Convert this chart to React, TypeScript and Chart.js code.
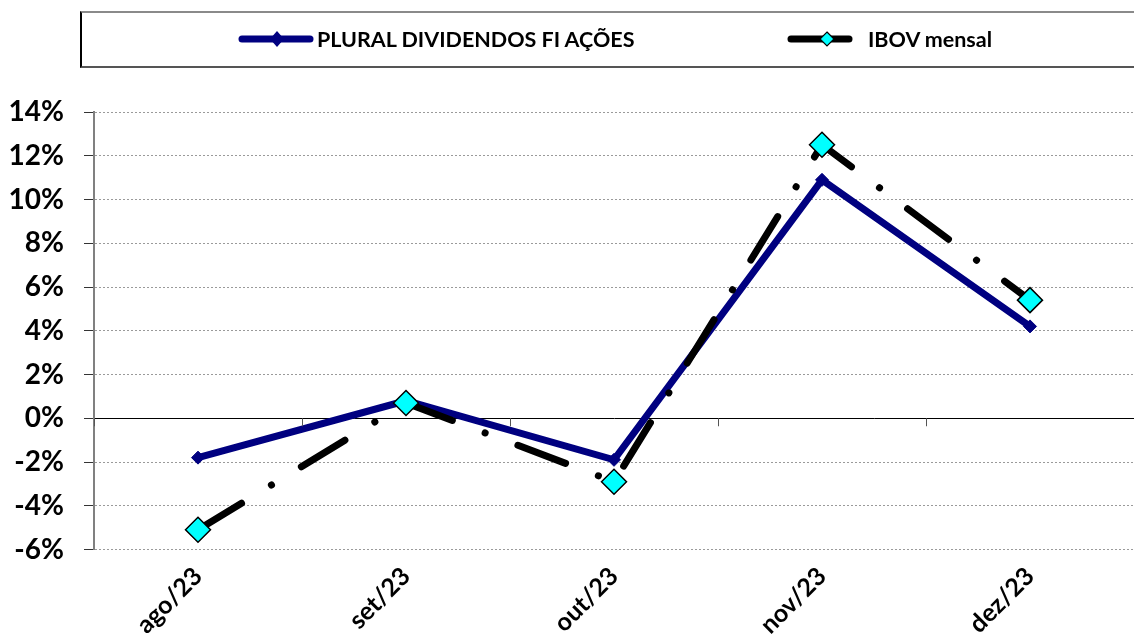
import React, { useEffect, useRef } from "react";
import { Chart, registerables } from "chart.js";

Chart.register(...registerables);

const categories = ["ago/23", "set/23", "out/23", "nov/23", "dez/23"];
const pluralValues = [-1.8, 0.8, -1.9, 10.9, 4.2];
const ibovValues = [-5.1, 0.7, -2.9, 12.5, 5.4];
const seriesNames = ["PLURAL DIVIDENDOS FI AÇÕES", "IBOV mensal"];
const yMin = -6;
const yMax = 14;
const yStep = 2;

const FONT = "Lato, 'Liberation Sans', sans-serif";

const zeroLinePlugin = {
  id: "zeroLineTicks",
  afterDraw(chart: any) {
    const { ctx, chartArea, scales } = chart;
    const y = scales.y.getPixelForValue(0);
    ctx.save();
    ctx.strokeStyle = "#555";
    ctx.lineWidth = 1;
    const n = categories.length;
    for (let i = 0; i <= n; i++) {
      const px = Math.round(chartArea.left + ((chartArea.right - chartArea.left) * i) / n) + 0.5;
      ctx.beginPath();
      ctx.moveTo(px, y);
      ctx.lineTo(px, y + 8);
      ctx.stroke();
    }
    ctx.restore();
  },
};

export default function App() {
  const ref = useRef<HTMLCanvasElement>(null);

  useEffect(() => {
    document.body.style.margin = "0";
    const chart = new Chart(ref.current!, {
      type: "line",
      data: {
        labels: categories,
        datasets: [
          {
            label: seriesNames[1],
            data: ibovValues,
            borderColor: "#000000",
            borderWidth: 7,
            borderCapStyle: "round",
            borderDash: [51, 35, 0.1, 35],
            pointStyle: "rectRot",
            pointRadius: 12.5,
            pointBackgroundColor: "#00FFFF",
            pointBorderColor: "#000000",
            pointBorderWidth: 1.5,
            tension: 0,
            order: 0,
          },
          {
            label: seriesNames[0],
            data: pluralValues,
            borderColor: "#000080",
            borderWidth: 7,
            borderJoinStyle: "miter",
            pointStyle: "rectRot",
            pointRadius: 6.5,
            pointBackgroundColor: "#000080",
            pointBorderColor: "#000080",
            pointBorderWidth: 1,
            tension: 0,
            order: 1,
          },
        ],
      },
      options: {
        animation: false,
        responsive: false,
        devicePixelRatio: 1,
        layout: { autoPadding: false, padding: { top: 112, right: 0, bottom: 0, left: 0 } },
        plugins: { legend: { display: false }, tooltip: { enabled: false } },
        scales: {
          x: {
            offset: true,
            grid: { display: false },
            border: { display: false },
            ticks: {
              minRotation: 45,
              maxRotation: 45,
              padding: 4,
              color: "#000",
              font: { family: FONT, size: 25, weight: "bold" },
            },
            afterFit: (s: any) => {
              s.height = 86.5;
              s.paddingLeft = 0;
              s.paddingRight = 0;
            },
          },
          y: {
            min: yMin,
            max: yMax,
            grid: {
              color: (c: any) => (c.tick && c.tick.value === 0 ? "#000" : "#9a9a9a"),
              lineWidth: 1,
              tickLength: 10,
              tickColor: "#333",
              tickBorderDash: [],
            },
            border: {
              display: true,
              color: "#808080",
              width: 2,
              dash: (c: any) => (c.tick && c.tick.value !== 0 ? [2, 2] : []),
            },
            ticks: {
              stepSize: yStep,
              padding: 20,
              color: "#000",
              font: { family: FONT, size: 28, weight: "bold" },
              callback: (v: any) => `${v}%`,
            },
            afterFit: (s: any) => {
              s.width = 94;
            },
          },
        },
      },
      plugins: [zeroLinePlugin],
    });
    return () => chart.destroy();
  }, []);

  const legendText: React.CSSProperties = {
    position: "absolute",
    top: 25,
    fontFamily: FONT,
    fontWeight: "bold",
    fontSize: 21.5,
    lineHeight: "28px",
    color: "#000",
    whiteSpace: "nowrap",
  };

  return (
    <div style={{ position: "absolute", left: 0, top: 0, width: 1134, height: 636, overflow: "hidden", background: "#fff" }}>
      <canvas ref={ref} width={1134} height={636} style={{ position: "absolute", left: 0, top: 0 }} />
      <div
        style={{
          position: "absolute",
          left: 80,
          top: 11,
          width: 1100,
          height: 53,
          borderTop: "2px solid #8a8a8a",
          borderLeft: "2px solid #000",
          borderBottom: "2px solid #555",
        }}
      />
      <svg style={{ position: "absolute", left: 0, top: 0 }} width={1134} height={70}>
        <line x1={242} y1={39} x2={310} y2={39} stroke="#000080" strokeWidth={7} strokeLinecap="round" />
        <polygon points="277,31 284,39 277,47 270,39" fill="#000080" />
        <line x1={791} y1={39} x2={849} y2={39} stroke="#000" strokeWidth={7} strokeLinecap="round" />
        <polygon points="827,32 834,39 827,46 820,39" fill="#00FFFF" stroke="#000" strokeWidth={1.2} />
      </svg>
      <span style={{ ...legendText, left: 317 }}>{seriesNames[0]}</span>
      <span style={{ ...legendText, left: 868 }}>{seriesNames[1]}</span>
    </div>
  );
}
